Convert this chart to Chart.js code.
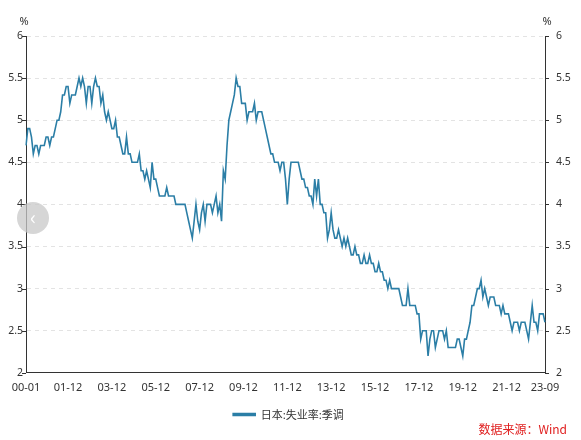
<!DOCTYPE html>
<html><head><meta charset="utf-8">
<script src="https://cdn.jsdelivr.net/npm/chart.js@4"></script>
<style>
body{margin:0;background:#fff;font-family:"Noto Sans CJK SC",sans-serif;}
#wrap{position:relative;width:581px;height:440px;}
#src{position:absolute;right:14px;top:420px;color:#e02020;font-size:12px;}
#nav{position:absolute;left:17px;top:202px;width:32px;height:32px;border-radius:16px;background:rgba(200,200,200,0.75);color:#fff;font-size:20px;text-align:center;line-height:30px;}
</style></head><body>
<div id="wrap"><canvas id="c" width="581" height="440"></canvas><div id="src">数据来源：Wind</div><div id="nav">‹</div></div>
<script>
const years=[];for(let y=0;y<=23;y++)years.push(y);
const values=[
4.7,4.9,4.9,4.8,4.6,4.7,4.7,4.6,4.7,4.7,4.7,4.8,
4.8,4.7,4.8,4.8,4.9,5.0,5.0,5.1,5.3,5.3,5.4,5.4,
5.2,5.3,5.3,5.3,5.4,5.5,5.4,5.5,5.4,5.2,5.4,5.4,
5.2,5.4,5.5,5.4,5.4,5.2,5.3,5.1,5.0,5.1,5.0,4.9,
4.9,5.0,4.8,4.8,4.7,4.6,4.6,4.8,4.6,4.6,4.5,4.5,
4.5,4.5,4.6,4.4,4.4,4.3,4.4,4.3,4.2,4.5,4.3,4.3,
4.2,4.1,4.1,4.1,4.1,4.2,4.1,4.1,4.1,4.1,4.0,4.0,
4.0,4.0,4.0,4.0,3.9,3.8,3.7,3.6,3.8,4.0,3.8,3.7,
3.9,4.0,3.8,4.0,4.0,4.0,3.9,4.0,4.1,3.9,4.0,3.8,
4.4,4.3,4.7,5.0,5.1,5.2,5.3,5.5,5.4,5.4,5.2,5.2,
5.2,5.0,5.1,5.1,5.1,5.2,5.0,5.1,5.1,5.1,5.0,4.9,
4.8,4.7,4.6,4.6,4.5,4.5,4.5,4.4,4.5,4.5,4.3,4.0,
4.3,4.5,4.5,4.5,4.5,4.5,4.4,4.3,4.3,4.2,4.2,4.1,
4.1,4.0,4.3,4.1,4.3,4.0,4.0,3.9,3.9,3.6,3.7,3.9,
3.7,3.6,3.6,3.7,3.6,3.5,3.6,3.5,3.6,3.5,3.4,3.4,
3.5,3.4,3.4,3.3,3.3,3.4,3.3,3.3,3.4,3.3,3.3,3.2,
3.2,3.3,3.2,3.2,3.1,3.1,3.0,3.1,3.0,3.0,3.0,3.0,
3.0,2.9,2.8,2.8,2.8,3.0,2.8,2.8,2.8,2.8,2.7,2.7,
2.4,2.5,2.5,2.5,2.2,2.4,2.5,2.5,2.3,2.4,2.5,2.5,
2.5,2.4,2.5,2.3,2.3,2.3,2.3,2.3,2.4,2.4,2.3,2.2,
2.4,2.4,2.5,2.6,2.8,2.8,2.9,3.0,3.0,3.1,2.9,3.0,
2.9,2.8,2.9,2.9,2.9,2.8,2.8,2.8,2.7,2.8,2.7,2.7,
2.7,2.6,2.5,2.6,2.6,2.6,2.5,2.6,2.6,2.6,2.5,2.4,
2.6,2.8,2.6,2.6,2.5,2.7,2.7,2.7,2.6];
const labels=[];
years.forEach(y=>{for(let m=1;m<=12;m++){if(labels.length<values.length)labels.push(String(y).padStart(2,'0')+'-'+String(m).padStart(2,'0'));}});
const seriesName='日本:失业率:季调';
const showIdx=i=>i===0||i===labels.length-1||(i>=23&&(i-23)%24===0&&i<labels.length-10);
const yTick={color:'#333',font:{size:10.5,family:'Noto Sans'},stepSize:0.5,callback:v=>String(v)};
new Chart(document.getElementById('c'),{type:'line',
data:{labels,datasets:[{label:seriesName,data:values,borderColor:'#2b7ea6',backgroundColor:'#2b7ea6',borderWidth:1.6,pointRadius:0,tension:0,yAxisID:'y'}]},
options:{responsive:false,animation:false,
layout:{padding:{left:0,right:4,top:36,bottom:10}},
plugins:{legend:{position:'bottom',labels:{boxWidth:22,boxHeight:2,color:'#333',font:{size:11,family:'Noto Sans CJK SC'},padding:12}},tooltip:{enabled:false}},
scales:{
x:{grid:{display:false,drawTicks:true,tickLength:5},border:{color:'#333'},ticks:{color:'#333',font:{size:11,family:'Noto Sans'},autoSkip:false,maxRotation:0,callback:function(v,i){return showIdx(i)?labels[i]:'';}}},
y:{position:'left',min:2,max:6,grid:{color:'#e3e3e3',tickLength:5,drawTicks:false},border:{color:'#333',dash:[4,4]},ticks:yTick,afterFit:s=>{s.width=26;}},
y2:{position:'right',min:2,max:6,grid:{display:false},border:{color:'#333'},ticks:yTick,afterFit:s=>{s.width=32;}}
}},
plugins:[{id:'pct',afterDraw(ch){const c=ch.ctx;c.save();c.fillStyle='#333';c.font='11px Noto Sans';c.textAlign='center';c.fillText('%',ch.scales.y.right-2,22);c.fillText('%',ch.scales.y2.left+2,22);
c.strokeStyle='#333';c.lineWidth=1;[2,2.5,3,3.5,4,4.5,5,5.5,6].forEach(v=>{const py=Math.round(ch.scales.y.getPixelForValue(v))+0.5;c.beginPath();c.moveTo(ch.scales.y.right-4,py);c.lineTo(ch.scales.y.right,py);c.moveTo(ch.scales.y2.left,py);c.lineTo(ch.scales.y2.left+4,py);c.stroke();});
c.restore();}}]
});
</script></body></html>
